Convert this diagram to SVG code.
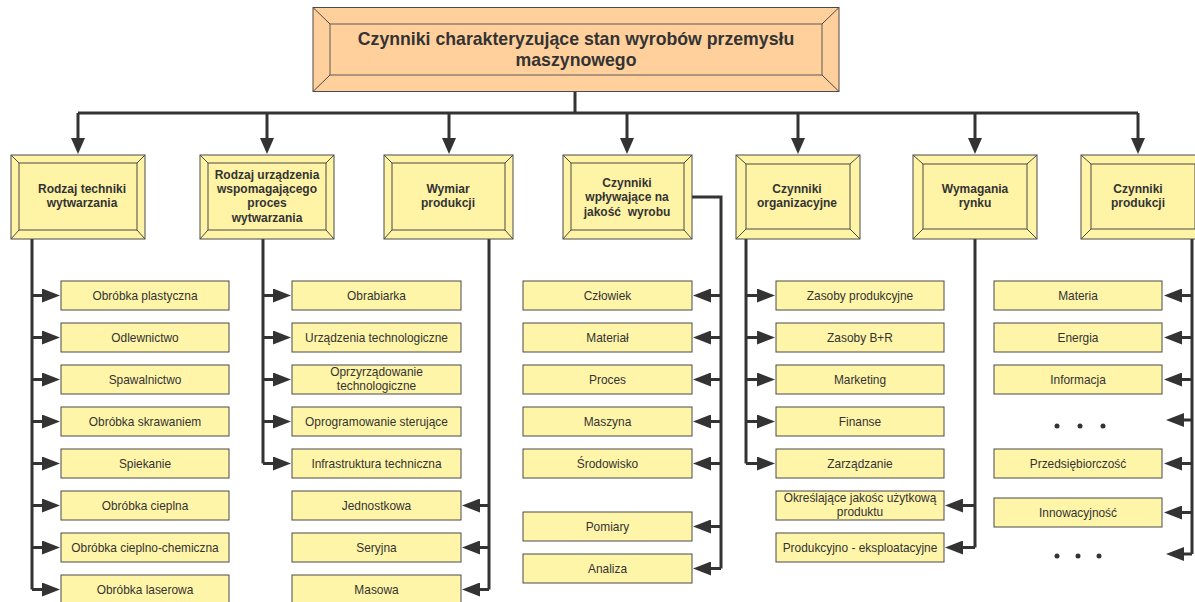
<svg xmlns="http://www.w3.org/2000/svg" width="1195" height="602" viewBox="0 0 1195 602">
<defs>
<marker id="ah" viewBox="0 0 18 14" markerWidth="18" markerHeight="14" refX="1" refY="7" orient="auto" markerUnits="userSpaceOnUse">
<path d="M0,0 L18,7 L0,14 z" fill="#333"/>
</marker>
<marker id="ahd" viewBox="0 0 16 14" markerWidth="16" markerHeight="14" refX="1" refY="7" orient="auto" markerUnits="userSpaceOnUse">
<path d="M0,0 L16,7 L0,14 z" fill="#333"/>
</marker>
<style>
.sb{fill:#FFF5A8;stroke:#4a4a4a;stroke-width:1}
.cb{fill:#FFF3A6;stroke:#4a4a4a;stroke-width:1}
.bv{fill:none;stroke:#4a4a4a;stroke-width:1}
.st{font-family:"Liberation Sans",Arial,sans-serif;font-size:11.9px;fill:#333;text-anchor:middle}
.ct{font-family:"Liberation Sans",Arial,sans-serif;font-size:12px;font-weight:bold;fill:#333;text-anchor:middle;white-space:pre}
.tt{font-family:"Liberation Sans",Arial,sans-serif;font-size:17.7px;font-weight:bold;fill:#333;text-anchor:middle}
.cn{fill:none;stroke:#333;stroke-width:3}
.ar{fill:none;stroke:#333;stroke-width:3;marker-end:url(#ah)}
.ad{fill:none;stroke:#333;stroke-width:3;marker-end:url(#ahd)}
.dot{fill:#333}
</style>
</defs>
<rect width="1195" height="602" fill="#fff"/>

<g id="connectors">
<path class="cn" d="M575,92 V113 M78,113 H1138"/>
<path class="ad" d="M78,113 V139"/>
<path class="ad" d="M267,113 V139"/>
<path class="ad" d="M449,113 V139"/>
<path class="ad" d="M627,113 V139"/>
<path class="ad" d="M798,113 V139"/>
<path class="ad" d="M975,113 V139"/>
<path class="ad" d="M1138,113 V139"/>

<path class="cn" d="M32,239 V589.5"/>
<path class="ar" d="M32,295.5 H43"/>
<path class="ar" d="M32,337.5 H43"/>
<path class="ar" d="M32,379.5 H43"/>
<path class="ar" d="M32,421.5 H43"/>
<path class="ar" d="M32,463.5 H43"/>
<path class="ar" d="M32,505.5 H43"/>
<path class="ar" d="M32,547.5 H43"/>
<path class="ar" d="M32,589.5 H43"/>

<path class="cn" d="M263,239 V463.5"/>
<path class="ar" d="M263,295.5 H274"/>
<path class="ar" d="M263,337.5 H274"/>
<path class="ar" d="M263,379.5 H274"/>
<path class="ar" d="M263,421.5 H274"/>
<path class="ar" d="M263,463.5 H274"/>

<path class="cn" d="M489,239 V589.5"/>
<path class="ar" d="M489,505.5 H479"/>
<path class="ar" d="M489,547.5 H479"/>
<path class="ar" d="M489,589.5 H479"/>

<path class="cn" d="M692,197 H721 V568.5"/>
<path class="ar" d="M721,295.5 H710"/>
<path class="ar" d="M721,337.5 H710"/>
<path class="ar" d="M721,379.5 H710"/>
<path class="ar" d="M721,421.5 H710"/>
<path class="ar" d="M721,463.5 H710"/>
<path class="ar" d="M721,526.5 H710"/>
<path class="ar" d="M721,568.5 H710"/>

<path class="cn" d="M746,239 V463.5"/>
<path class="ar" d="M746,295.5 H758"/>
<path class="ar" d="M746,337.5 H758"/>
<path class="ar" d="M746,379.5 H758"/>
<path class="ar" d="M746,421.5 H758"/>
<path class="ar" d="M746,463.5 H758"/>

<path class="cn" d="M975,239 V547.5"/>
<path class="ar" d="M975,505.5 H962"/>
<path class="ar" d="M975,547.5 H962"/>

<path class="cn" d="M1192,239 V554"/>
<path class="ar" d="M1192,295.5 H1181"/>
<path class="ar" d="M1192,337.5 H1181"/>
<path class="ar" d="M1192,379.5 H1181"/>
<path class="ar" d="M1192,420 H1183"/>
<path class="ar" d="M1192,463.5 H1181"/>
<path class="ar" d="M1192,512.5 H1181"/>
<path class="ar" d="M1192,554 H1183"/>
</g>

<g id="title">
<rect x="313" y="7.5" width="526" height="84" fill="#FFD09C" stroke="#4a4a4a"/>
<rect x="330" y="24" width="492" height="51" fill="#FFD09C" stroke="#5a5a5a"/>
<path class="bv" d="M313,7.5 L330,24 M839,7.5 L822,24 M313,91.5 L330,75 M839,91.5 L822,75"/>
<text class="tt" x="576" y="45">Czynniki charakteryzujące stan wyrobów przemysłu</text>
<text class="tt" x="576" y="66">maszynowego</text>
</g>

<g id="cat1">
<rect class="cb" x="11" y="155" width="134" height="84"/>
<rect class="cb" x="19" y="163" width="118" height="67"/>
<path class="bv" d="M11,155 L19,163 M145,155 L137,163 M11,239 L19,230 M145,239 L137,230"/>
<text class="ct" x="82" y="193">Rodzaj techniki</text>
<text class="ct" x="82" y="207">wytwarzania</text>
</g>
<g id="cat2">
<rect class="cb" x="200" y="155" width="134" height="84"/>
<rect class="cb" x="208" y="163" width="118" height="67"/>
<path class="bv" d="M200,155 L208,163 M334,155 L326,163 M200,239 L208,230 M334,239 L326,230"/>
<text class="ct" x="267" y="179">Rodzaj urządzenia</text>
<text class="ct" x="267" y="193">wspomagającego</text>
<text class="ct" x="267" y="207">proces</text>
<text class="ct" x="267" y="222">wytwarzania</text>
</g>
<g id="cat3">
<rect class="cb" x="384" y="155" width="129" height="84"/>
<rect class="cb" x="392" y="163" width="113" height="67"/>
<path class="bv" d="M384,155 L392,163 M513,155 L505,163 M384,239 L392,230 M513,239 L505,230"/>
<text class="ct" x="448" y="193">Wymiar</text>
<text class="ct" x="448" y="207">produkcji</text>
</g>
<g id="cat4">
<rect class="cb" x="563" y="155" width="129" height="84"/>
<rect class="cb" x="571" y="163" width="113" height="67"/>
<path class="bv" d="M563,155 L571,163 M692,155 L684,163 M563,239 L571,230 M692,239 L684,230"/>
<text class="ct" x="627" y="187">Czynniki</text>
<text class="ct" x="627" y="201">wpływające na</text>
<text class="ct" x="627" y="216">jakość  wyrobu</text>
</g>
<g id="cat5">
<rect class="cb" x="736" y="155" width="124" height="84"/>
<rect class="cb" x="746" y="164" width="104" height="65"/>
<path class="bv" d="M736,155 L746,164 M860,155 L850,164 M736,239 L746,229 M860,239 L850,229"/>
<text class="ct" x="797" y="193">Czynniki</text>
<text class="ct" x="797" y="207">organizacyjne</text>
</g>
<g id="cat6">
<rect class="cb" x="913" y="155" width="124" height="84"/>
<rect class="cb" x="923" y="164" width="104" height="65"/>
<path class="bv" d="M913,155 L923,164 M1037,155 L1027,164 M913,239 L923,229 M1037,239 L1027,229"/>
<text class="ct" x="975" y="193">Wymagania</text>
<text class="ct" x="975" y="207">rynku</text>
</g>
<g id="cat7">
<rect class="cb" x="1081" y="155" width="124" height="84"/>
<rect class="cb" x="1091" y="164" width="104" height="65"/>
<path class="bv" d="M1081,155 L1091,164 M1205,155 L1195,164 M1081,239 L1091,229"/>
<text class="ct" x="1138" y="193">Czynniki</text>
<text class="ct" x="1138" y="207">produkcji</text>
</g>

<g id="c1-1"><rect class="sb" x="61" y="281" width="168" height="29"/><text class="st" x="145" y="299.5">Obróbka plastyczna</text></g>
<g id="c1-2"><rect class="sb" x="61" y="323" width="168" height="29"/><text class="st" x="145" y="341.5">Odlewnictwo</text></g>
<g id="c1-3"><rect class="sb" x="61" y="365" width="168" height="29"/><text class="st" x="145" y="383.5">Spawalnictwo</text></g>
<g id="c1-4"><rect class="sb" x="61" y="407" width="168" height="29"/><text class="st" x="145" y="425.5">Obróbka skrawaniem</text></g>
<g id="c1-5"><rect class="sb" x="61" y="449" width="168" height="29"/><text class="st" x="145" y="467.5">Spiekanie</text></g>
<g id="c1-6"><rect class="sb" x="61" y="491" width="168" height="29"/><text class="st" x="145" y="509.5">Obróbka cieplna</text></g>
<g id="c1-7"><rect class="sb" x="61" y="533" width="168" height="29"/><text class="st" x="145" y="551.5">Obróbka cieplno-chemiczna</text></g>
<g id="c1-8"><rect class="sb" x="61" y="575" width="168" height="29"/><text class="st" x="145" y="593.5">Obróbka laserowa</text></g>

<g id="c2-1"><rect class="sb" x="292" y="281" width="169" height="29"/><text class="st" x="376.5" y="299.5">Obrabiarka</text></g>
<g id="c2-2"><rect class="sb" x="292" y="323" width="169" height="29"/><text class="st" x="376.5" y="341.5">Urządzenia technologiczne</text></g>
<g id="c2-3"><rect class="sb" x="292" y="365" width="169" height="29"/><text class="st" x="376.5" y="376">Oprzyrządowanie</text><text class="st" x="376.5" y="390">technologiczne</text></g>
<g id="c2-4"><rect class="sb" x="292" y="407" width="169" height="29"/><text class="st" x="376.5" y="425.5">Oprogramowanie sterujące</text></g>
<g id="c2-5"><rect class="sb" x="292" y="449" width="169" height="29"/><text class="st" x="376.5" y="467.5">Infrastruktura techniczna</text></g>
<g id="c3-1"><rect class="sb" x="292" y="491" width="169" height="29"/><text class="st" x="376.5" y="509.5">Jednostkowa</text></g>
<g id="c3-2"><rect class="sb" x="292" y="533" width="169" height="29"/><text class="st" x="376.5" y="551.5">Seryjna</text></g>
<g id="c3-3"><rect class="sb" x="292" y="575" width="169" height="29"/><text class="st" x="376.5" y="593.5">Masowa</text></g>

<g id="c4-1"><rect class="sb" x="523" y="281" width="169" height="29"/><text class="st" x="607.5" y="299.5">Człowiek</text></g>
<g id="c4-2"><rect class="sb" x="523" y="323" width="169" height="29"/><text class="st" x="607.5" y="341.5">Materiał</text></g>
<g id="c4-3"><rect class="sb" x="523" y="365" width="169" height="29"/><text class="st" x="607.5" y="383.5">Proces</text></g>
<g id="c4-4"><rect class="sb" x="523" y="407" width="169" height="29"/><text class="st" x="607.5" y="425.5">Maszyna</text></g>
<g id="c4-5"><rect class="sb" x="523" y="449" width="169" height="29"/><text class="st" x="607.5" y="467.5">Środowisko</text></g>
<g id="c4-6"><rect class="sb" x="523" y="512" width="169" height="29"/><text class="st" x="607.5" y="530.5">Pomiary</text></g>
<g id="c4-7"><rect class="sb" x="523" y="554" width="169" height="29"/><text class="st" x="607.5" y="572.5">Analiza</text></g>

<g id="c5-1"><rect class="sb" x="776" y="281" width="168" height="29"/><text class="st" x="860" y="299.5">Zasoby produkcyjne</text></g>
<g id="c5-2"><rect class="sb" x="776" y="323" width="168" height="29"/><text class="st" x="860" y="341.5">Zasoby B+R</text></g>
<g id="c5-3"><rect class="sb" x="776" y="365" width="168" height="29"/><text class="st" x="860" y="383.5">Marketing</text></g>
<g id="c5-4"><rect class="sb" x="776" y="407" width="168" height="29"/><text class="st" x="860" y="425.5">Finanse</text></g>
<g id="c5-5"><rect class="sb" x="776" y="449" width="168" height="29"/><text class="st" x="860" y="467.5">Zarządzanie</text></g>
<g id="c6-1"><rect class="sb" x="776" y="491" width="168" height="29"/><text class="st" x="860" y="502">Określające jakośc użytkową</text><text class="st" x="860" y="516">produktu</text></g>
<g id="c6-2"><rect class="sb" x="776" y="533" width="168" height="29"/><text class="st" x="860" y="551.5">Produkcyjno - eksploatacyjne</text></g>

<g id="c7-1"><rect class="sb" x="994" y="281" width="168" height="29"/><text class="st" x="1078" y="299.5">Materia</text></g>
<g id="c7-2"><rect class="sb" x="994" y="323" width="168" height="29"/><text class="st" x="1078" y="341.5">Energia</text></g>
<g id="c7-3"><rect class="sb" x="994" y="365" width="168" height="29"/><text class="st" x="1078" y="383.5">Informacja</text></g>
<g id="c7-dots1"><circle class="dot" cx="1057" cy="426" r="2.5"/><circle class="dot" cx="1080" cy="426" r="2.5"/><circle class="dot" cx="1103" cy="426" r="2.5"/></g>
<g id="c7-4"><rect class="sb" x="994" y="449" width="168" height="29"/><text class="st" x="1078" y="467.5">Przedsiębiorczość</text></g>
<g id="c7-5"><rect class="sb" x="994" y="498" width="168" height="29"/><text class="st" x="1078" y="516.5">Innowacyjność</text></g>
<g id="c7-dots2"><circle class="dot" cx="1057" cy="556" r="2.5"/><circle class="dot" cx="1078" cy="556" r="2.5"/><circle class="dot" cx="1099" cy="556" r="2.5"/></g>
</svg>
